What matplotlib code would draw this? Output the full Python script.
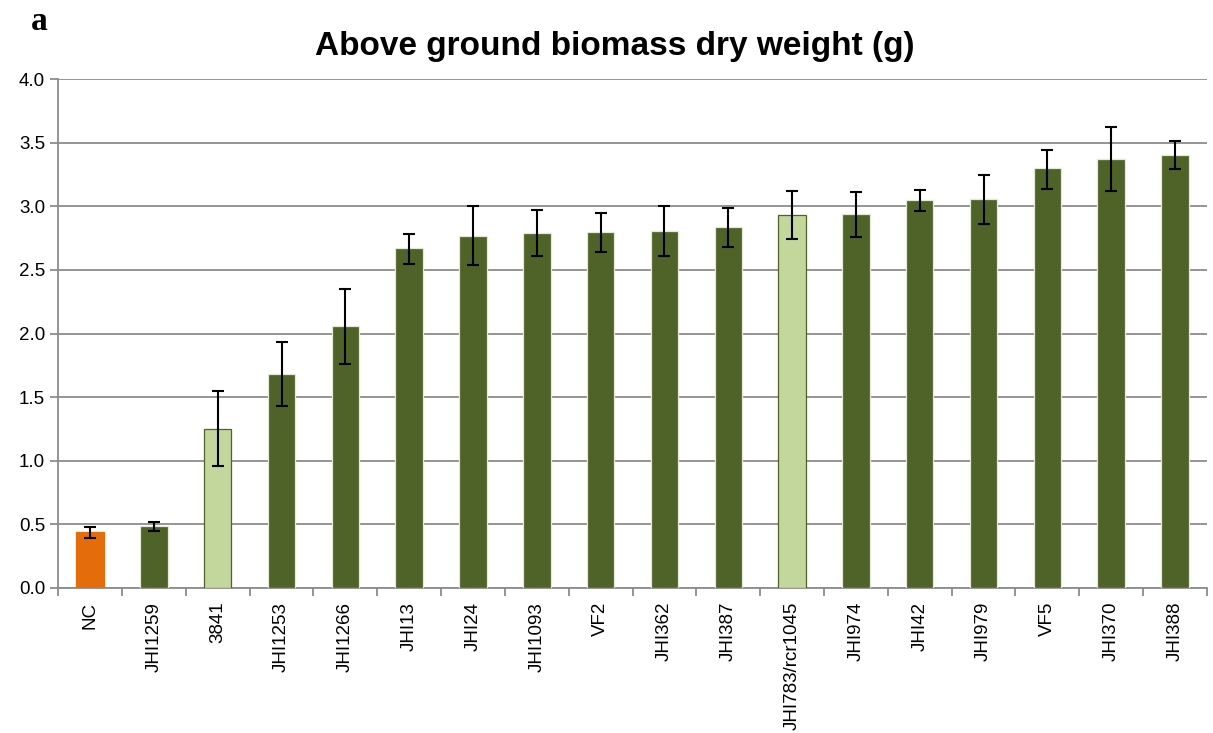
import matplotlib.pyplot as plt
import numpy as np

plt.rcParams['font.family'] = ['Liberation Sans', 'DejaVu Sans']

# data
lines = ["NC", "JHI1259", "3841", "JHI1253", "JHI1266", "JHI13", "JHI24",
         "JHI1093", "VF2", "JHI362", "JHI387", "JHI783/rcr1045", "JHI974",
         "JHI42", "JHI979", "VF5", "JHI370", "JHI388"]
mean = [0.44, 0.49, 1.25, 1.68, 2.06, 2.67, 2.77, 2.79, 2.80, 2.81, 2.84,
        2.93, 2.94, 3.05, 3.06, 3.30, 3.37, 3.40]
err_lo = [0.05, 0.04, 0.29, 0.25, 0.30, 0.12, 0.23, 0.18, 0.16, 0.20, 0.16,
          0.19, 0.18, 0.09, 0.20, 0.16, 0.25, 0.11]
err_hi = [0.04, 0.03, 0.30, 0.25, 0.29, 0.11, 0.23, 0.18, 0.15, 0.19, 0.15,
          0.19, 0.17, 0.08, 0.19, 0.14, 0.25, 0.11]
group = ["control", "test", "ref", "test", "test", "test", "test", "test",
         "test", "test", "test", "ref", "test", "test", "test", "test",
         "test", "test"]

fill = {"control": "#E46C0A", "test": "#4F6228", "ref": "#C3D69B"}
edge = {"control": "#E46C0A", "test": "#E3E9D6", "ref": "#4F6228"}

fig = plt.figure(figsize=(12.13, 7.33), dpi=100)
ax = fig.add_axes([0.048, 0.198, 0.947, 0.694])

x = np.arange(len(lines))
ax.bar(x, mean, width=0.43, color=[fill[g] for g in group],
       edgecolor=[edge[g] for g in group], linewidth=0.9, zorder=3)
ax.errorbar(x, mean, yerr=[err_lo, err_hi], fmt='none', ecolor='black',
            elinewidth=1.5, capsize=4, capthick=1.5, zorder=4)

ax.set_xlim(-0.5, len(lines) - 0.5)
ax.set_ylim(0, 4.0)
ax.set_yticks(np.arange(0, 4.01, 0.5))
ax.set_yticklabels([f"{v:.1f}" for v in np.arange(0, 4.01, 0.5)])
ax.yaxis.grid(True, color='#8C8C8C', linewidth=1.3, zorder=0)
ax.set_axisbelow(True)

ax.set_xticks(x)
ax.set_xticklabels(lines, rotation=90)
ax.set_xticks(np.arange(-0.5, len(lines)), minor=True)
ax.tick_params(axis='x', which='major', length=0, pad=10, labelsize=13.5)
ax.tick_params(axis='x', which='minor', length=6, width=1.3, color='#8C8C8C')
ax.tick_params(axis='y', length=6, width=1.3, color='#8C8C8C', labelsize=13.5)

for s in ['top', 'right']:
    ax.spines[s].set_visible(False)
for s in ['left', 'bottom']:
    ax.spines[s].set_color('#8C8C8C')
    ax.spines[s].set_linewidth(1.3)

fig.text(0.507, 0.937, "Above ground biomass dry weight (g)", ha='center',
         va='center', fontsize=24, fontweight='bold')
fig.text(0.032, 0.970, "a", ha='center', va='center', fontsize=24,
         fontweight='bold', family='Liberation Serif')

plt.savefig("out.png", dpi=100)
